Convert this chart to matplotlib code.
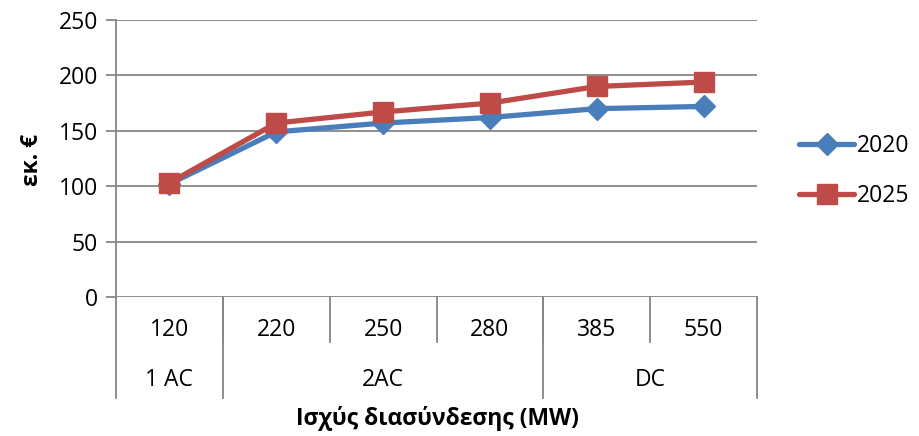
import matplotlib
matplotlib.use("Agg")
import matplotlib.pyplot as plt
from matplotlib.transforms import blended_transform_factory
from matplotlib.lines import Line2D

plt.rcParams['font.family'] = ['Open Sans', 'DejaVu Sans']

# Data
capacities = ["120", "220", "250", "280", "385", "550"]
groups = ["1 AC", "2AC", "DC"]
group_sizes = [1, 3, 2]
series_names = ["2020", "2025"]
values_2020 = [102, 149, 157, 162, 170, 172]
values_2025 = [103, 157, 167, 175, 190, 194]
y_ticks = [0, 50, 100, 150, 200, 250]

blue = "#4A7EBB"
red = "#BE4B48"
grid_c = "#868686"
fs = 16.5

W, H = 920, 436
fig = plt.figure(figsize=(W / 100, H / 100), dpi=100)
ax = fig.add_axes([116 / W, (H - 297) / H, 641 / W, 277 / H])

x = list(range(len(capacities)))
ax.plot(x, values_2020, color=blue, lw=3.8, marker="D", ms=11,
        mfc=blue, mec=blue, solid_capstyle="round", zorder=3)
ax.plot(x, values_2025, color=red, lw=3.8, marker="s", ms=14,
        mfc=red, mec=red, solid_capstyle="round", zorder=4)

ax.set_xlim(-0.5, len(capacities) - 0.5)
ax.set_ylim(0, 250)
ax.set_yticks(y_ticks)
ax.set_yticklabels([str(v) for v in y_ticks], fontsize=fs)
ax.tick_params(axis="y", length=7, width=1.3, color=grid_c, pad=6)
ax.set_xticks([])

for s in ["top", "right", "bottom"]:
    ax.spines[s].set_visible(False)
ax.spines["left"].set_color(grid_c)
ax.spines["left"].set_linewidth(1.3)

for v in y_ticks:
    ax.axhline(v, color=grid_c, lw=1.3, zorder=1)

# Two-level category axis
px = 1 / 277  # one pixel in axes y units
trans = blended_transform_factory(ax.transData, ax.transAxes)
inner_bottom = -(342 - 297) * px
outer_bottom = -(398 - 297) * px

for i in range(1, len(capacities)):
    ax.add_line(Line2D([i - 0.5, i - 0.5], [0, inner_bottom], transform=trans,
                       color=grid_c, lw=1.3, clip_on=False))

edges = [-0.5]
for n in group_sizes:
    edges.append(edges[-1] + n)
for e in edges:
    ax.add_line(Line2D([e, e], [0, outer_bottom], transform=trans,
                       color=grid_c, lw=1.3, clip_on=False))

for i, lab in enumerate(capacities):
    ax.text(i, -(330 - 297) * px, lab, transform=trans, ha="center",
            va="center", fontsize=fs)

for g, lab in enumerate(groups):
    center = (edges[g] + edges[g + 1]) / 2
    ax.text(center, -(380 - 297) * px, lab, transform=trans, ha="center",
            va="center", fontsize=fs)

fig.text(437 / W, 1 - 418 / H, "Ισχύς διασύνδεσης (MW)", ha="center",
         va="center", fontsize=fs, fontweight="bold")
fig.text(32 / W, 1 - 160 / H, "εκ. €", ha="center", va="center",
         fontsize=fs, fontweight="bold", rotation=90)

# Legend
handles = [
    Line2D([], [], color=blue, lw=3.8, marker="D", ms=11, mfc=blue, mec=blue,
           solid_capstyle="round"),
    Line2D([], [], color=red, lw=3.8, marker="s", ms=14, mfc=red, mec=red,
           solid_capstyle="round"),
]
fig.legend(handles, series_names, loc="center left",
           bbox_to_anchor=(790 / W, 1 - 171 / H), frameon=False,
           fontsize=fs, handlelength=2.4, handletextpad=0.1,
           labelspacing=1.15, borderaxespad=0)

fig.savefig("out.png", dpi=100)
